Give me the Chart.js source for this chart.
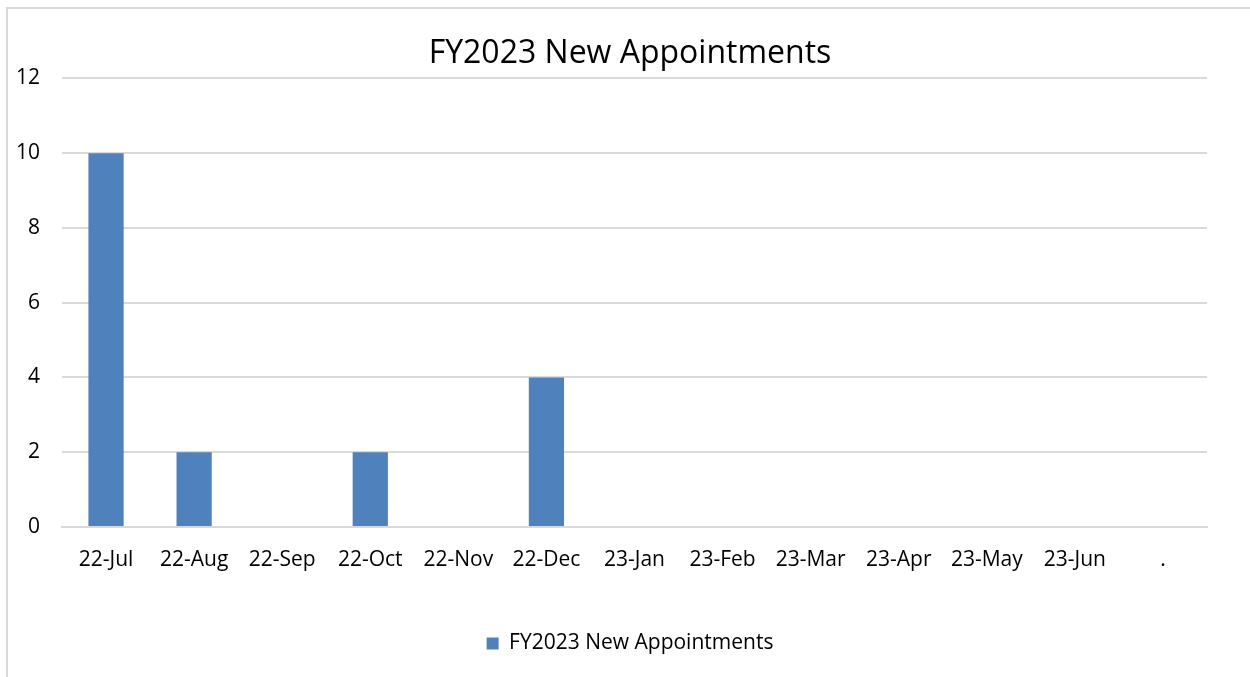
<!DOCTYPE html>
<html>
<head>
<meta charset="utf-8">
<script src="https://cdn.jsdelivr.net/npm/chart.js@4"></script>
<style>
  html, body { margin: 0; padding: 0; background: #fff; }
  #wrap { position: relative; width: 1250px; height: 677px; }
  #frame { position: absolute; left: 6px; top: 7px; right: 0; bottom: 0;
           border-left: 2px solid #d9d9d9; border-top: 2px solid #d9d9d9; }
  canvas { position: absolute; left: 0; top: 0; }
</style>
</head>
<body>
<div id="wrap">
  <div id="frame"></div>
  <canvas id="apptChart" width="1250" height="677"></canvas>
</div>
<script>
// data
const months = ["22-Jul", "22-Aug", "22-Sep", "22-Oct", "22-Nov", "22-Dec",
                "23-Jan", "23-Feb", "23-Mar", "23-Apr", "23-May", "23-Jun", "."];
const newAppointments = [10, 2, 0, 2, 0, 4, 0, 0, 0, 0, 0, 0, 0];
const yTicks = [0, 2, 4, 6, 8, 10, 12];

const fontFamily = "'Open Sans', Lato, sans-serif";
const gray = "#d9d9d9";

// centre title and legend on the page like the original, not on the padded box
const recentre = {
    id: "recentre",
    afterLayout(chart) {
        chart.titleBlock.left = 53;
        chart.legend.left = 53;
        chart.legend.adjustHitBoxes();
    }
};

let ctx = document.getElementById("apptChart").getContext("2d");
new Chart(ctx, {
    type: "bar",
    data: {
        labels: months,
        datasets: [{
            label: "FY2023 New Appointments",
            data: newAppointments,
            backgroundColor: "#4f81bd",
            borderWidth: 0,
            barPercentage: 0.4,
            categoryPercentage: 1.0
        }]
    },
    options: {
        responsive: false,
        animation: false,
        layout: { padding: { left: 0, right: 43, top: 0, bottom: 13 } },
        plugins: {
            title: {
                display: true,
                text: "FY2023 New Appointments",
                color: "#000",
                font: { family: fontFamily, size: 32, weight: "normal" },
                padding: { top: 35, bottom: 5 }
            },
            legend: {
                position: "bottom",
                labels: {
                    color: "#000",
                    font: { family: fontFamily, size: 21 },
                    boxWidth: 12,
                    boxHeight: 12,
                    padding: 10
                }
            },
            tooltip: { enabled: false }
        },
        scales: {
            x: {
                grid: { display: false, drawTicks: false },
                border: { color: gray, width: 2 },
                ticks: {
                    color: "#000",
                    font: { family: fontFamily, size: 21 },
                    padding: 20,
                    maxRotation: 0,
                    autoSkip: false
                },
                afterFit: scale => { scale.height = 96; }
            },
            y: {
                min: 0,
                max: 12,
                afterBuildTicks: scale => {
                    scale.ticks = yTicks.map(v => ({ value: v }));
                },
                grid: { color: gray, lineWidth: 2, drawTicks: false },
                border: { display: false },
                ticks: {
                    color: "#000",
                    font: { family: fontFamily, size: 21 },
                    padding: 22
                },
                afterFit: scale => { scale.width = 62; }
            }
        }
    },
    plugins: [recentre]
});
</script>
</body>
</html>
